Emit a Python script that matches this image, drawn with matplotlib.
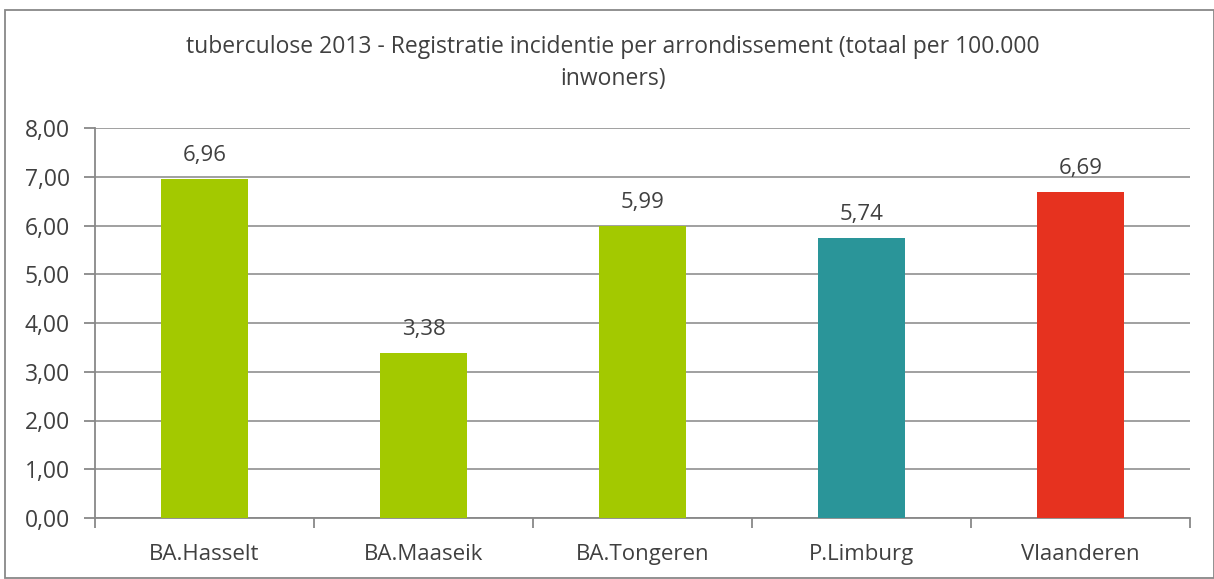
import matplotlib.pyplot as plt
from matplotlib.patches import Rectangle

categories = ["BA.Hasselt", "BA.Maaseik", "BA.Tongeren", "P.Limburg", "Vlaanderen"]
values = [6.96, 3.38, 5.99, 5.74, 6.69]
colors = ["#A3C900", "#A3C900", "#A3C900", "#2A9599", "#E6321F"]
title = "tuberculose 2013 - Registratie incidentie per arrondissement (totaal per 100.000\ninwoners)"

plt.rcParams['font.family'] = ['Open Sans', 'DejaVu Sans']

W, H = 1214, 579
fig = plt.figure(figsize=(W / 100, H / 100), dpi=100)
ax = fig.add_axes([95 / W, 1 - 518 / H, (1190 - 95) / W, (518 - 128) / H])

x = range(len(categories))
ax.bar(x, values, width=0.4, color=colors, zorder=3)
for i, v in enumerate(values):
    ax.text(i, v + 0.27, f"{v:.2f}".replace(".", ","), ha="center", va="bottom",
            fontsize=16, color="#404040")

ax.set_xlim(-0.5, len(categories) - 0.5)
ax.set_ylim(0, 8)
ax.set_yticks(range(9))
ax.set_yticklabels([f"{t},00" for t in range(9)])
ax.set_xticks(list(x))
ax.set_xticklabels(categories)
ax.set_xticks([i - 0.5 for i in range(len(categories) + 1)], minor=True)
ax.tick_params(axis="x", which="major", length=0, pad=19, labelsize=16, labelcolor="#404040")
ax.tick_params(axis="x", which="minor", length=7, color="#888888", width=1.3)
ax.tick_params(axis="y", length=8, color="#888888", width=1.3, pad=10, labelsize=16.5, labelcolor="#404040")
ax.yaxis.grid(True, color="#999999", linewidth=1.3, zorder=0)
for s in ["top", "right"]:
    ax.spines[s].set_visible(False)
for s in ["left", "bottom"]:
    ax.spines[s].set_color("#888888")
    ax.spines[s].set_linewidth(1.3)

fig.text(613 / W, 1 - 63 / H, title, ha="center", va="center", fontsize=16.5,
         color="#404040", linespacing=1.45)

fig.patches.append(Rectangle((5 / W, 1 / H), 1 - 5 / W, 1 - 11 / H, transform=fig.transFigure,
                             fill=False, edgecolor="#888888", linewidth=1.3))

fig.savefig("out.png", dpi=100)
